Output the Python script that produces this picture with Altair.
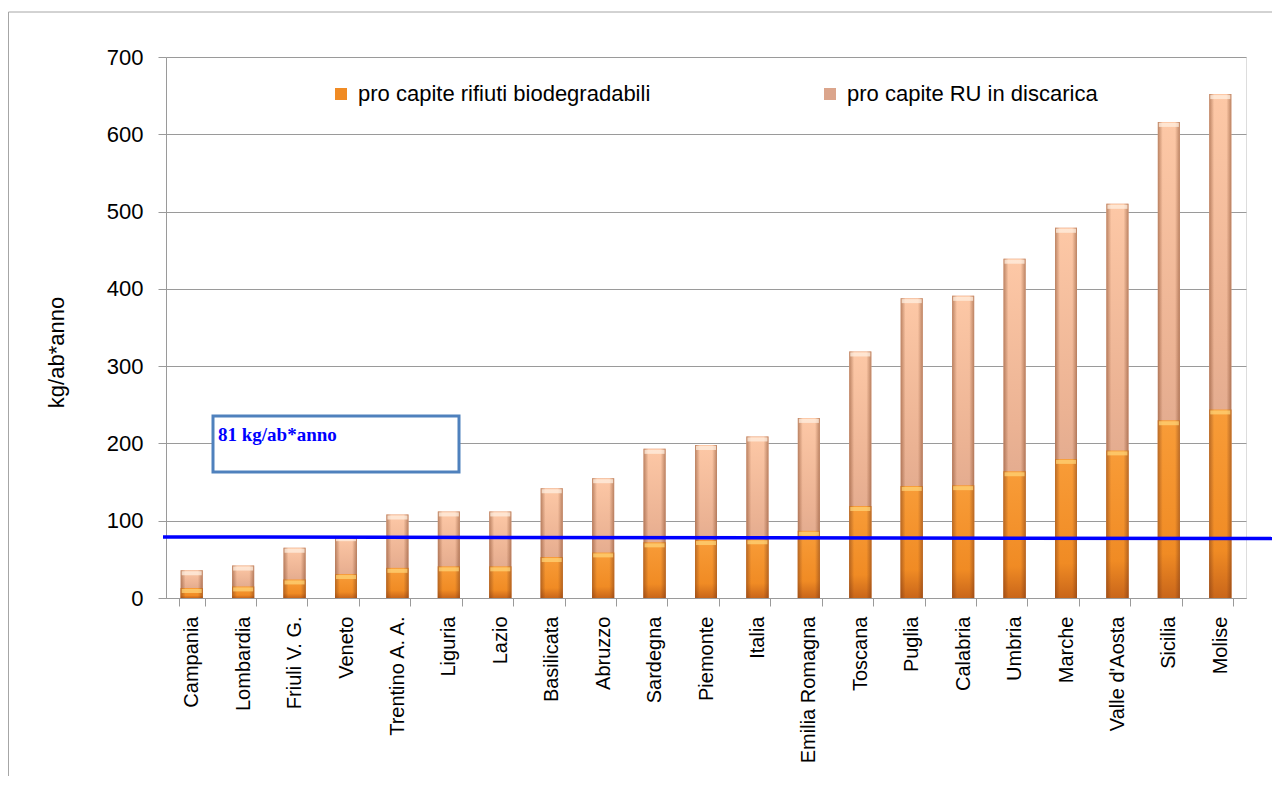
import altair as alt
import pandas as pd

regions = ["Campania", "Lombardia", "Friuli V. G.", "Veneto", "Trentino A. A.", "Liguria",
           "Lazio", "Basilicata", "Abruzzo", "Sardegna", "Piemonte", "Italia",
           "Emilia Romagna", "Toscana", "Puglia", "Calabria", "Umbria", "Marche",
           "Valle d'Aosta", "Sicilia", "Molise"]
biodeg = [13, 15, 24, 31, 39, 41, 41, 53, 59, 72, 75, 76, 87, 119, 145, 146, 164, 180, 191, 230, 244]
discarica = [36, 42, 65, 80, 108, 112, 112, 142, 155, 193, 198, 209, 233, 319, 388, 391, 439, 479, 510, 616, 652]
series = ["pro capite rifiuti biodegradabili", "pro capite RU in discarica"]
y_ticks = [0, 100, 200, 300, 400, 500, 600, 700]
y_title = "kg/ab*anno"
ref_label = ["81 kg/ab*anno"]
ref_start = [79]
ref_end = [77]

FONT = "Liberation Sans"
W, H = 1080, 541
GRID = "#9a9a9a"

df_tot = pd.DataFrame({"regione": regions, "valore": discarica, "serie": series[1]})
df_bio = pd.DataFrame({"regione": regions, "valore": biodeg, "serie": series[0]})
df_all = pd.concat([df_tot, df_bio], ignore_index=True)
df_ref = pd.DataFrame({"valore": ref_start, "valore2": ref_end, "label": ref_label})

x_scale = alt.Scale(paddingInner=0.5, paddingOuter=0.25)
y_scale = alt.Scale(domain=[0, 700], nice=False)


def xenc(axis=True):
    if axis:
        return alt.X("regione:N", sort=regions, scale=x_scale,
                     axis=alt.Axis(title=None, labelAngle=-90, labelAlign="right",
                                   labelBaseline="middle", tickBand="extent", tickSize=8,
                                   labelPadding=10, labelFontSize=20, labelLimit=300,
                                   labelFont=FONT, labelColor="black",
                                   domainColor=GRID, tickColor=GRID, grid=False))
    return alt.X("regione:N", sort=regions, scale=x_scale)


def yenc(axis=True):
    if axis:
        return alt.Y("valore:Q", scale=y_scale, stack=None, title=y_title,
                     axis=alt.Axis(values=y_ticks, grid=True, gridColor=GRID,
                                   domainColor=GRID, tickColor=GRID, tickSize=8,
                                   labelPadding=15, labelFontSize=22, labelFont=FONT,
                                   labelColor="black", titleFont=FONT, titleFontSize=22,
                                   titleFontWeight="normal", titleColor="black",
                                   titlePadding=38, titleY=295))
    return alt.Y("valore:Q", scale=y_scale, stack=None, title=y_title)


orange_grad = alt.LinearGradient(
    gradient="linear", x1=0, x2=0, y1=0, y2=1,
    stops=[alt.GradientStop(offset=0, color="#f89c38"),
           alt.GradientStop(offset=0.75, color="#f08b24"),
           alt.GradientStop(offset=1, color="#c9661a")])
tan_grad = alt.LinearGradient(
    gradient="linear", x1=0, x2=0, y1=0, y2=1,
    stops=[alt.GradientStop(offset=0, color="#fdc8a6"),
           alt.GradientStop(offset=0.5, color="#ebb293"),
           alt.GradientStop(offset=1, color="#d09c86")])
edge_grad = alt.LinearGradient(
    gradient="linear", x1=0, x2=1, y1=0, y2=0,
    stops=[alt.GradientStop(offset=0, color="rgba(110,50,20,0.45)"),
           alt.GradientStop(offset=0.22, color="rgba(110,50,20,0)"),
           alt.GradientStop(offset=0.78, color="rgba(110,50,20,0)"),
           alt.GradientStop(offset=1, color="rgba(110,50,20,0.45)")])

BAR = 22

base = alt.Chart(df_all).mark_bar(size=BAR).encode(
    x=xenc(True), y=yenc(True),
    color=alt.Color("serie:N", scale=alt.Scale(domain=series, range=["#f08b24", "#dba58c"]),
                    legend=alt.Legend(orient="none", legendX=164, legendY=26,
                                      direction="horizontal", title=None,
                                      symbolType="square", symbolSize=144,
                                      symbolStrokeWidth=0, labelFontSize=22,
                                      labelFont=FONT, labelColor="black",
                                      labelLimit=400, labelOffset=6,
                                      columnPadding=168, padding=0)),
    order=alt.Order("serie:N", sort="ascending"))

tan_bars = alt.Chart(df_tot).mark_bar(size=BAR, color=tan_grad).encode(x=xenc(False), y=yenc(False))
tan_edge = alt.Chart(df_tot).mark_bar(size=BAR, color=edge_grad).encode(x=xenc(False), y=yenc(False))
tan_cap = alt.Chart(df_tot).mark_tick(size=BAR - 2, thickness=4, color="#fff2e6", yOffset=3).encode(
    x=xenc(False), y=yenc(False))
org_bars = alt.Chart(df_bio).mark_bar(size=BAR, color=orange_grad).encode(x=xenc(False), y=yenc(False))
org_edge = alt.Chart(df_bio).mark_bar(size=BAR, color=edge_grad).encode(x=xenc(False), y=yenc(False))
org_cap = alt.Chart(df_bio).mark_tick(size=BAR - 2, thickness=4, color="#ffd77a", yOffset=3).encode(
    x=xenc(False), y=yenc(False))

ref_line = alt.Chart(df_ref).mark_rule(color="#0000ff", strokeWidth=3.5).encode(
    x=alt.value(-3), x2=alt.value(1109),
    y=yenc(False), y2=alt.Y2("valore2:Q", title=y_title))

box = alt.Chart(df_ref).mark_rect(fill="white", stroke="#4f81bd", strokeWidth=3).encode(
    x=alt.value(47), x2=alt.value(293), y=alt.value(359), y2=alt.value(415))
box_text = alt.Chart(df_ref).mark_text(align="left", baseline="alphabetic", font="Liberation Serif",
                                       fontWeight="bold", fontSize=19, color="#0000ff").encode(
    x=alt.value(52), y=alt.value(384), text="label:N")

frame = alt.Chart(df_ref).mark_rect(fill="white", fillOpacity=0, stroke="#a6a6a6", strokeWidth=1).encode(
    x=alt.value(-157.5), x2=alt.value(1300), y=alt.value(-45), y2=alt.value(900))

chart = alt.layer(
    frame, base, tan_bars, tan_edge, tan_cap, org_bars, org_edge, org_cap, box, box_text, ref_line
).properties(
    width=W, height=H,
    autosize=alt.AutoSizeParams(type="none"),
    padding={"left": 158, "top": 49, "right": 26, "bottom": 178},
).configure_view(stroke=None).configure(background="white")

chart.save("out.html", embed_options={"renderer": "svg", "actions": False})
